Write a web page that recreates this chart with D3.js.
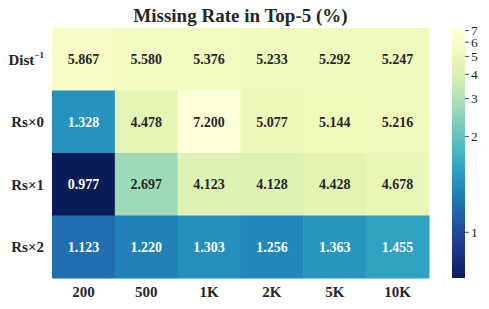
<!DOCTYPE html>
<html>
<head>
<meta charset="utf-8">
<script src="https://cdn.jsdelivr.net/npm/d3@7"></script>
<style>
  body { margin: 0; background: #fff; }
  svg { display: block; font-family: "Liberation Serif", "Times New Roman", serif; }
</style>
</head>
<body>
<div id="chart"></div>
<script>
// data
var rowLabels = ["Dist", "Rs×0", "Rs×1", "Rs×2"];
var colLabels = ["200", "500", "1K", "2K", "5K", "10K"];
var distInv = [5.867, 5.580, 5.376, 5.233, 5.292, 5.247];
var rsX0 = [1.328, 4.478, 7.200, 5.077, 5.144, 5.216];
var rsX1 = [0.977, 2.697, 4.123, 4.128, 4.428, 4.678];
var rsX2 = [1.123, 1.220, 1.303, 1.256, 1.363, 1.455];
var cbarTicks = [1, 2, 3, 4, 5, 6, 7];

var rowsData = [distInv, rsX0, rsX1, rsX2];

var W = 489, H = 309;
var mapLeft = 52, mapTop = 28, mapW = 377, mapH = 250;
var cbX = 452, cbW = 13;

var vmin = 0.977, vmax = 7.2, s1 = 0.185, gamma = 0.72;

// colour norm (position along the colourbar, 0 = bottom)
function norm(v) {
  if (v < 1) return s1 * (v - vmin) / (1 - vmin);
  return s1 + (1 - s1) * Math.pow(Math.log(v) / Math.log(vmax), gamma);
}

var color = d3.scaleSequential(d3.interpolateYlGnBu).domain([1, 0]);

var svg = d3.select("#chart").append("svg")
  .attr("width", W).attr("height", H);

var x = d3.scaleBand().domain(colLabels).range([mapLeft, mapLeft + mapW]);
var y = d3.scaleBand().domain(rowLabels).range([mapTop, mapTop + mapH]);

// flatten into cells
var cells = [];
rowsData.forEach(function(vals, r) {
  vals.forEach(function(v, c) {
    cells.push({row: rowLabels[r], col: colLabels[c], value: v});
  });
});

svg.append("g").selectAll("rect")
  .data(cells).enter().append("rect")
  .attr("x", function(d) { return x(d.col); })
  .attr("y", function(d) { return y(d.row); })
  .attr("width", x.bandwidth() + 0.5)
  .attr("height", y.bandwidth() + 0.5)
  .attr("fill", function(d) { return color(norm(d.value)); });

function lum(c) {
  var rgb = d3.rgb(c);
  var f = function(u) { u /= 255; return u <= 0.03928 ? u / 12.92 : Math.pow((u + 0.055) / 1.055, 2.4); };
  return 0.2126 * f(rgb.r) + 0.7152 * f(rgb.g) + 0.0722 * f(rgb.b);
}

svg.append("g").selectAll("text")
  .data(cells).enter().append("text")
  .attr("x", function(d) { return x(d.col) + x.bandwidth() / 2; })
  .attr("y", function(d) { return y(d.row) + y.bandwidth() / 2; })
  .attr("dy", "0.35em")
  .attr("text-anchor", "middle")
  .attr("font-size", 14)
  .attr("font-weight", "bold")
  .attr("fill", function(d) { return lum(color(norm(d.value))) < 0.408 ? "#fff" : "#262626"; })
  .text(function(d) { return d3.format(".3f")(d.value); });

// row labels
var rowG = svg.append("g");
rowLabels.forEach(function(lab) {
  var t = rowG.append("text")
    .attr("x", 44)
    .attr("y", y(lab) + y.bandwidth() / 2)
    .attr("dy", "0.35em")
    .attr("text-anchor", "end")
    .attr("font-size", 15)
    .attr("font-weight", "bold")
    .attr("fill", "#262626");
  if (lab === "Dist") {
    t.append("tspan").text("Dist");
    t.append("tspan").attr("font-size", 9).attr("dy", "-0.7em").text("−1");
  } else {
    t.text(lab);
  }
});

// column labels
svg.append("g").selectAll("text")
  .data(colLabels).enter().append("text")
  .attr("x", function(d) { return x(d) + x.bandwidth() / 2; })
  .attr("y", 297)
  .attr("text-anchor", "middle")
  .attr("font-size", 15)
  .attr("font-weight", "bold")
  .attr("fill", "#262626")
  .text(function(d) { return d; });

// title
svg.append("text")
  .attr("x", mapLeft + mapW / 2)
  .attr("y", 22)
  .attr("text-anchor", "middle")
  .attr("font-size", 19)
  .attr("font-weight", "bold")
  .attr("fill", "#262626")
  .text("Missing Rate in Top-5 (%)");

// colourbar
var grad = svg.append("defs").append("linearGradient")
  .attr("id", "cbar").attr("x1", 0).attr("y1", 0).attr("x2", 0).attr("y2", 1);
d3.range(0, 1.0001, 0.05).forEach(function(t) {
  grad.append("stop").attr("offset", t).attr("stop-color", d3.interpolateYlGnBu(t));
});
svg.append("rect")
  .attr("x", cbX).attr("y", mapTop)
  .attr("width", cbW).attr("height", mapH)
  .attr("fill", "url(#cbar)");

var cbPos = d3.scaleLinear().domain([0, 1]).range([mapTop + mapH, mapTop]);
var cbDomain = [vmin].concat(cbarTicks, [vmax]);
var cbScale = d3.scaleLinear()
  .domain(cbDomain)
  .range(cbDomain.map(function(v) { return cbPos(norm(v)); }));

var cbAxis = svg.append("g")
  .attr("transform", "translate(" + (cbX + cbW) + ",0)")
  .call(d3.axisRight(cbScale).tickValues(cbarTicks).tickSize(4).tickPadding(2).tickFormat(d3.format("d")));
cbAxis.select(".domain").remove();
cbAxis.selectAll("line").attr("stroke", "#444");
cbAxis.selectAll("text")
  .attr("font-family", "Liberation Serif, serif")
  .attr("font-size", 13.5)
  .attr("fill", "#262626");
</script>
</body>
</html>
